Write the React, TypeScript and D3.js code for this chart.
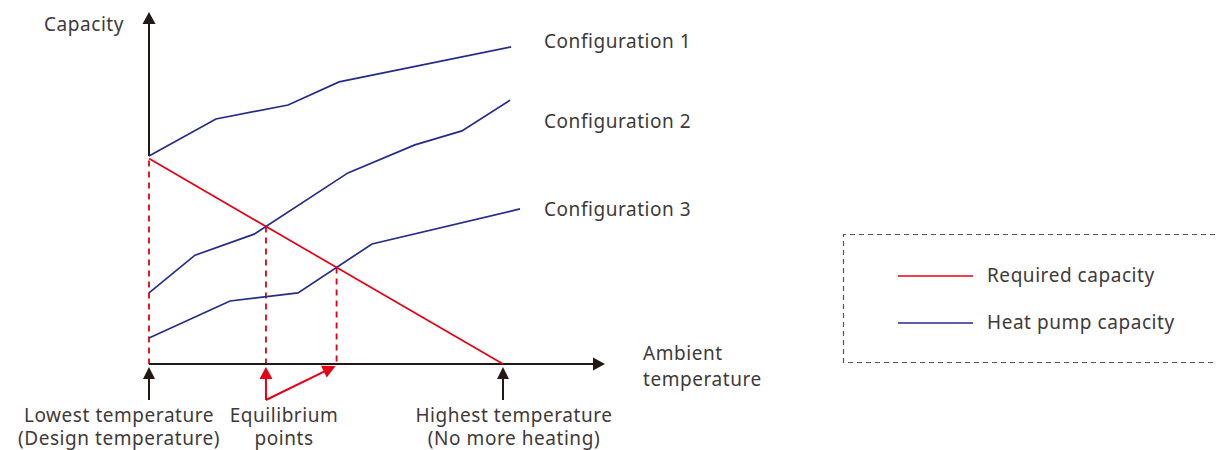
import React from "react";
import * as d3 from "d3";

// ---- Data (abstract units: temperature 0..100 = lowest..highest, capacity 0..100) ----
const config1X = [0, 18.9, 39.3, 53.7, 102.3];
const config1Y = [59.4, 70, 74, 80.6, 90.6];
const config2X = [0, 13, 29.7, 56.2, 75.1, 88.4, 102];
const config2Y = [20.3, 31.1, 37.1, 54.6, 62.6, 66.6, 75.4];
const config3X = [0, 22.9, 42.1, 63, 104.8];
const config3Y = [7.4, 18, 20.3, 34.3, 44.3];
const requiredX = [0, 100];
const requiredY = [58.7, 0];
const configLabels = ["Configuration 1", "Configuration 2", "Configuration 3"];
const legendLabels = ["Required capacity", "Heat pump capacity"];

const W = 1217;
const H = 450;
const RED = "#e60012";
const BLUE = "#232c8c";
const AXIS = "#231815";
const TEXT = "#3e3a39";
const FONT = "'Noto Sans', 'Open Sans', sans-serif";
const FS = 19;
const LS = 0.55;

const x = d3.scaleLinear().domain([0, 100]).range([149, 503]);
const y = d3.scaleLinear().domain([0, 100]).range([364, 14]);

type P = [number, number];
const zip = (xs: number[], ys: number[]): P[] => xs.map((v, i) => [v, ys[i]]);

function intersect(a: P[], b: P[]): P | null {
  for (let i = 0; i < a.length - 1; i++) {
    for (let j = 0; j < b.length - 1; j++) {
      const [x1, y1] = a[i], [x2, y2] = a[i + 1], [x3, y3] = b[j], [x4, y4] = b[j + 1];
      const den = (x1 - x2) * (y3 - y4) - (y1 - y2) * (x3 - x4);
      if (Math.abs(den) < 1e-9) continue;
      const t = ((x1 - x3) * (y3 - y4) - (y1 - y3) * (x3 - x4)) / den;
      const u = -((x1 - x2) * (y1 - y3) - (y1 - y2) * (x1 - x3)) / den;
      if (t > 0.001 && t <= 1 && u >= 0 && u <= 1) return [x1 + t * (x2 - x1), y1 + t * (y2 - y1)];
    }
  }
  return null;
}

function arrowHead(tipX: number, tipY: number, fromX: number, fromY: number, len = 12, half = 6.5) {
  const dx = tipX - fromX, dy = tipY - fromY;
  const L = Math.hypot(dx, dy);
  const ux = dx / L, uy = dy / L;
  const bx = tipX - ux * len, by = tipY - uy * len;
  const px = -uy, py = ux;
  return `${tipX},${tipY} ${bx + px * half},${by + py * half} ${bx - px * half},${by - py * half}`;
}

export default function App() {
  const line = d3.line<P>().x((d) => x(d[0])).y((d) => y(d[1]));
  const configs = [zip(config1X, config1Y), zip(config2X, config2Y), zip(config3X, config3Y)];
  const required = zip(requiredX, requiredY);
  const eqPts = configs.map((c) => intersect(required, c)).filter((p): p is P => p !== null);

  const axisY = y(0);
  const x0 = x(0);
  const xEnd = 605;
  const yTop = 12;
  const arrowBottom = 400;

  const labelBaselines = [48, 128, 216];

  const eq1 = eqPts[0];
  const eq2 = eqPts[1];

  return (
    <svg width={W} height={H} style={{ position: "absolute", left: 0, top: 0, background: "#fff" }}
      fontFamily={FONT}>
      {/* dashed verticals */}
      <line x1={x0} x2={x0} y1={y(requiredY[0]) + 2} y2={axisY} stroke={RED} strokeWidth={1.8} strokeDasharray="6,5" />
      {eqPts.map((p, i) => (
        <line key={i} x1={x(p[0])} x2={x(p[0])} y1={y(p[1])} y2={axisY} stroke={RED} strokeWidth={1.8} strokeDasharray="6,5" />
      ))}

      {/* axes */}
      <line x1={x0} x2={x0} y1={yTop + 10} y2={y(config1Y[0])} stroke={AXIS} strokeWidth={2} />
      <polygon points={arrowHead(x0, yTop, x0, yTop + 20, 12, 6.5)} fill={AXIS} />
      <line x1={x0} x2={xEnd - 10} y1={axisY} y2={axisY} stroke={AXIS} strokeWidth={2} />
      <polygon points={arrowHead(xEnd, axisY, xEnd - 20, axisY, 12, 6.5)} fill={AXIS} />

      {/* series */}
      {configs.map((c, i) => (
        <path key={i} d={line(c) || ""} fill="none" stroke={BLUE} strokeWidth={1.7} />
      ))}
      <path d={line(required) || ""} fill="none" stroke={RED} strokeWidth={1.7} />

      {/* black arrows below axis */}
      {[0, 100].map((v) => (
        <g key={v}>
          <line x1={x(v)} x2={x(v)} y1={arrowBottom} y2={axisY + 12} stroke={AXIS} strokeWidth={2} />
          <polygon points={arrowHead(x(v), axisY + 3, x(v), arrowBottom, 12, 6)} fill={AXIS} />
        </g>
      ))}

      {/* red equilibrium arrows */}
      {eq1 && eq2 && (
        <g>
          <line x1={x(eq1[0])} x2={x(eq1[0])} y1={arrowBottom} y2={axisY + 12} stroke={RED} strokeWidth={2} />
          <polygon points={arrowHead(x(eq1[0]), axisY + 3, x(eq1[0]), arrowBottom, 12, 6.5)} fill={RED} />
          {(() => {
            const sx = x(eq1[0]), sy = arrowBottom, tx = x(eq2[0]) - 1, ty = axisY + 2;
            const L = Math.hypot(tx - sx, ty - sy);
            const ex = tx - ((tx - sx) / L) * 10, ey = ty - ((ty - sy) / L) * 10;
            return (
              <g>
                <line x1={sx} y1={sy} x2={ex} y2={ey} stroke={RED} strokeWidth={2} />
                <polygon points={arrowHead(tx, ty, sx, sy, 13, 6.5)} fill={RED} />
              </g>
            );
          })()}
        </g>
      )}

      {/* texts */}
      <g fill={TEXT} fontSize={FS} letterSpacing={LS}>
        <text x={44} y={31}>Capacity</text>
        {configLabels.map((t, i) => (
          <text key={t} x={544} y={labelBaselines[i]}>{t}</text>
        ))}
        <text x={643} y={360}>Ambient</text>
        <text x={643} y={386}>temperature</text>
        <text x={119} y={422} textAnchor="middle">Lowest temperature</text>
        <text x={119} y={445} textAnchor="middle">(Design temperature)</text>
        <text x={284} y={422} textAnchor="middle">Equilibrium</text>
        <text x={284} y={445} textAnchor="middle">points</text>
        <text x={514} y={422} textAnchor="middle">Highest temperature</text>
        <text x={514} y={445} textAnchor="middle">(No more heating)</text>
      </g>

      {/* legend */}
      <g>
        <path d={`M1215,234.5 H843.5 V362.5 H1215`} fill="none" stroke="#555" strokeWidth={1.2} strokeDasharray="5,4" />
        <line x1={898} x2={973} y1={276} y2={276} stroke={RED} strokeWidth={1.7} />
        <line x1={898} x2={973} y1={323} y2={323} stroke={BLUE} strokeWidth={1.7} />
        <g fill={TEXT} fontSize={FS} letterSpacing={LS}>
          <text x={987} y={282}>{legendLabels[0]}</text>
          <text x={987} y={329}>{legendLabels[1]}</text>
        </g>
      </g>
    </svg>
  );
}
